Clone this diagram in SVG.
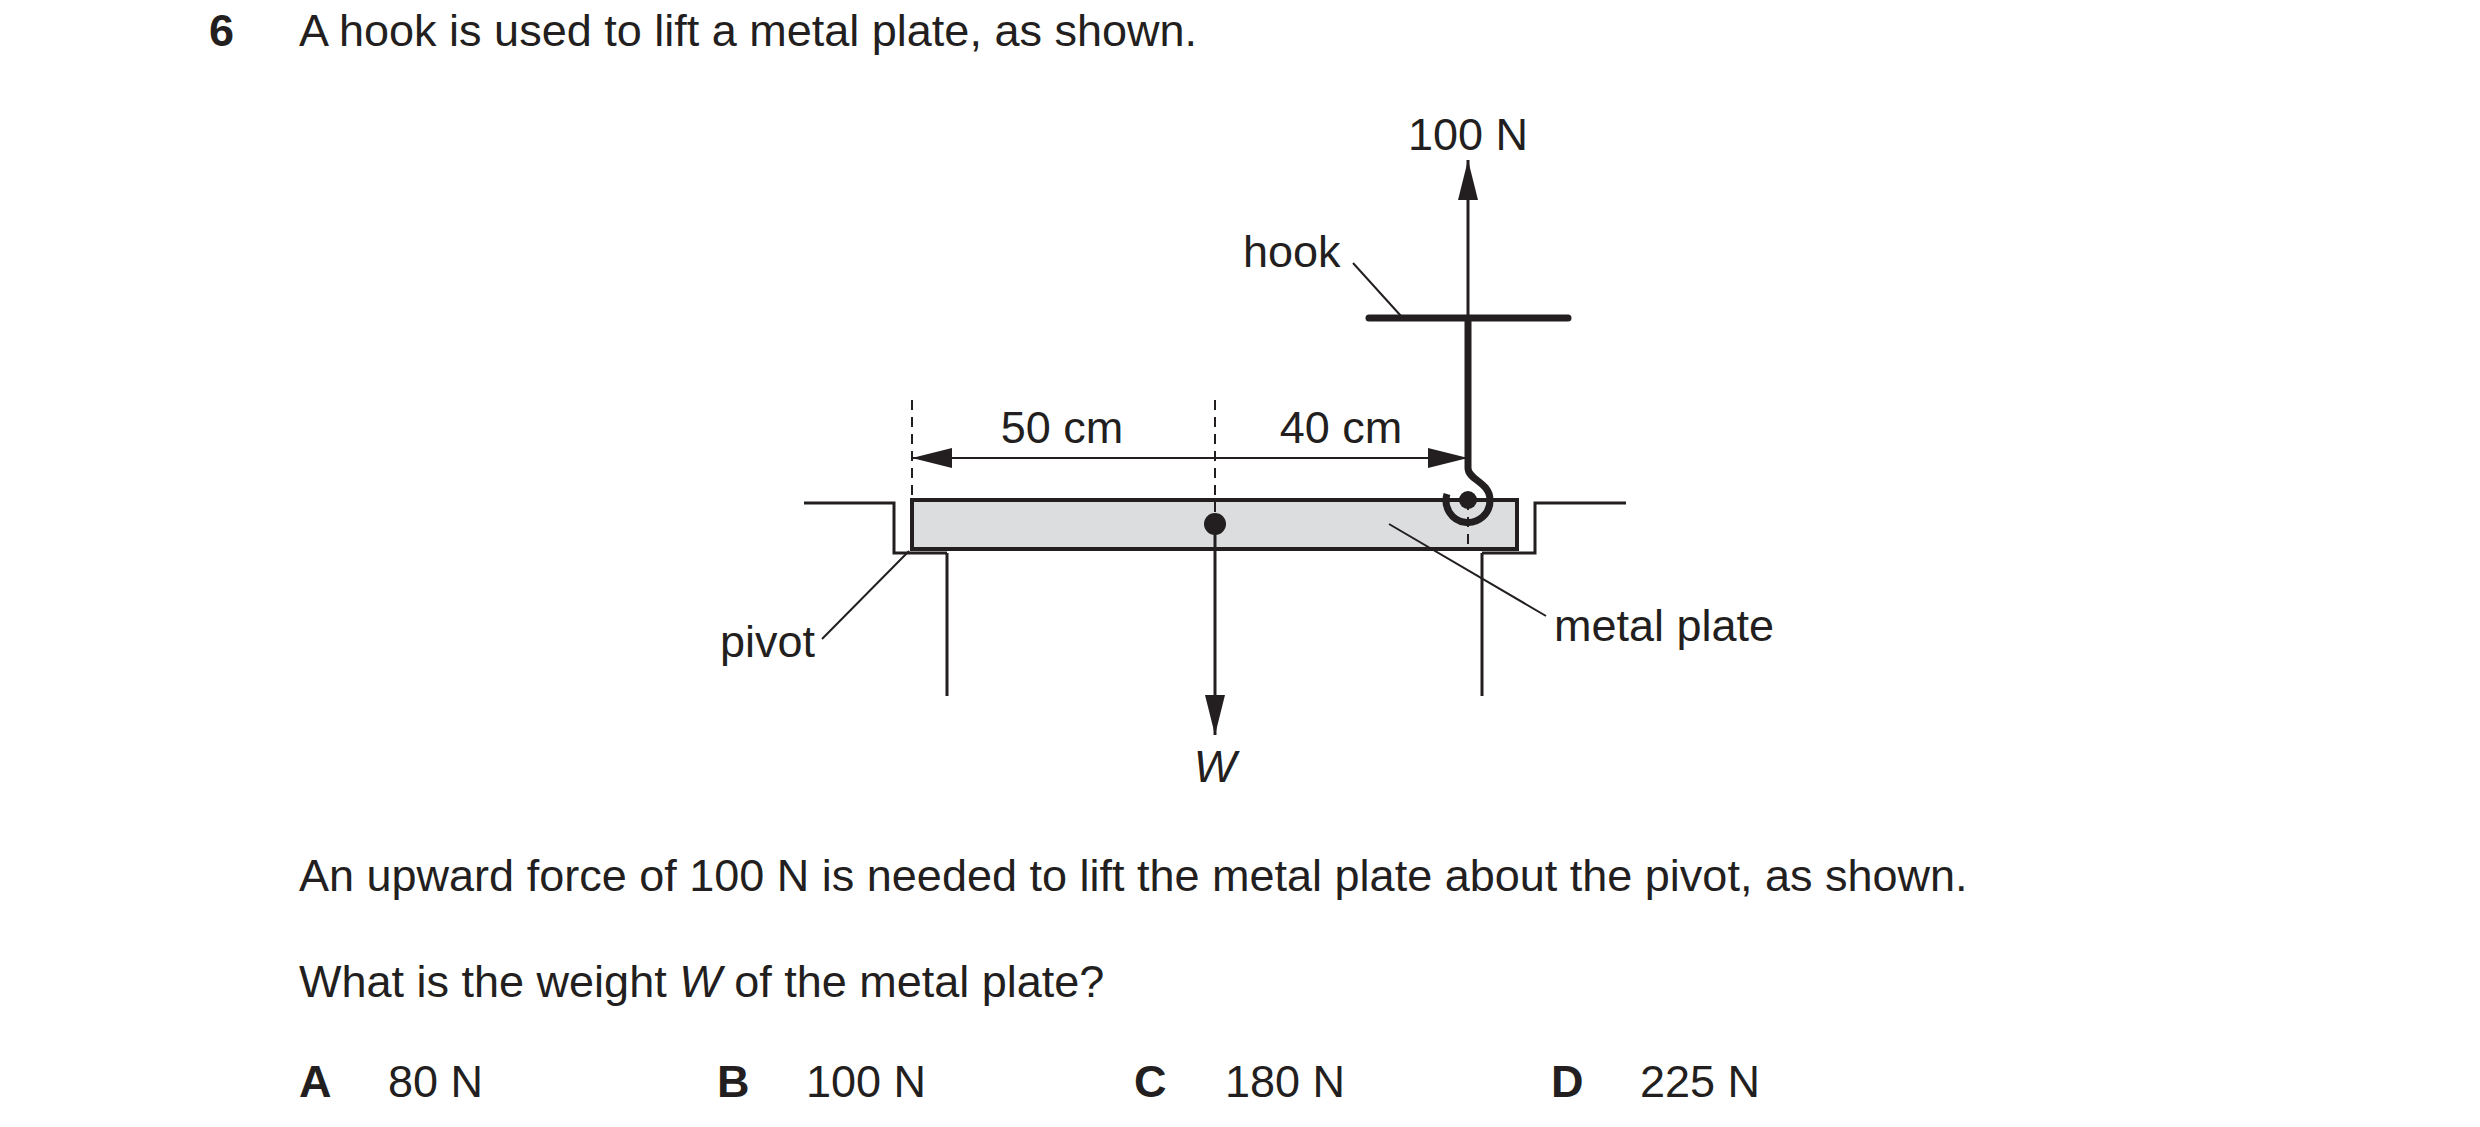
<svg xmlns="http://www.w3.org/2000/svg" width="2480" height="1127" viewBox="0 0 2480 1127">
<style>
text{font-family:"Liberation Sans",Arial,sans-serif;font-size:45px;fill:#231f20}
.b{font-weight:bold}
.ln{stroke:#231f20;fill:none}
</style>
<defs>
<marker id="ah2" viewBox="0 0 40 20" refX="40" refY="10" markerWidth="40" markerHeight="20" orient="auto" markerUnits="userSpaceOnUse"><path d="M0,0L40,10L0,20z" fill="#231f20"/></marker>
</defs>
<rect width="2480" height="1127" fill="#fff"/>
<text x="209" y="46" class="b">6</text>
<text x="299" y="46">A hook is used to lift a metal plate, as shown.</text>
<g id="ground" class="ln" stroke-width="3">
<path d="M804,503H894V553H947M1482,553H1535V503H1626"/>
<path d="M947,553V696M1482,553V696"/>
</g>
<g id="plate"><rect x="912" y="500" width="605" height="49" fill="#dcdddf" stroke="#231f20" stroke-width="4"/></g>
<g id="connectors">
<path class="ln" stroke-width="2" stroke-dasharray="10,7" d="M912,400V500M1215,400V524M1468,500V549"/>
<line class="ln" x1="1215" y1="458" x2="912" y2="458" stroke-width="2" marker-end="url(#ah2)"/>
<line class="ln" x1="1215" y1="458" x2="1468" y2="458" stroke-width="2" marker-end="url(#ah2)"/>
<line class="ln" x1="1215" y1="524" x2="1215" y2="735" stroke-width="3" marker-end="url(#ah2)"/>
<line class="ln" x1="1468" y1="318" x2="1468" y2="160" stroke-width="3" marker-end="url(#ah2)"/>
<path class="ln" stroke-width="2" d="M1353,263L1401,316M822,639L909,551M1546,616L1389,524"/>
</g>
<g id="hook">
<line class="ln" x1="1369" y1="318" x2="1568" y2="318" stroke-width="7" stroke-linecap="round"/>
<path class="ln" stroke-width="7" d="M1468,318V468C1468,480 1490,482 1490,500A22,22 0 1 1 1447,494"/>
<circle cx="1468" cy="500" r="9" fill="#231f20"/>
</g>
<circle id="cog" cx="1215" cy="524" r="11" fill="#231f20"/>
<text x="1468" y="150" text-anchor="middle">100 N</text>
<text x="1243" y="267">hook</text>
<text x="1062" y="443" text-anchor="middle">50 cm</text>
<text x="1341" y="443" text-anchor="middle">40 cm</text>
<text x="720" y="657">pivot</text>
<text x="1554" y="641">metal plate</text>
<text x="1215" y="782" text-anchor="middle" font-style="italic">W</text>
<text x="299" y="891">An upward force of 100 N is needed to lift the metal plate about the pivot, as shown.</text>
<text x="299" y="997">What is the weight <tspan font-style="italic">W</tspan> of the metal plate?</text>
<text x="299" y="1097" class="b">A</text><text x="388" y="1097">80 N</text>
<text x="717" y="1097" class="b">B</text><text x="806" y="1097">100 N</text>
<text x="1134" y="1097" class="b">C</text><text x="1225" y="1097">180 N</text>
<text x="1551" y="1097" class="b">D</text><text x="1640" y="1097">225 N</text>
</svg>
